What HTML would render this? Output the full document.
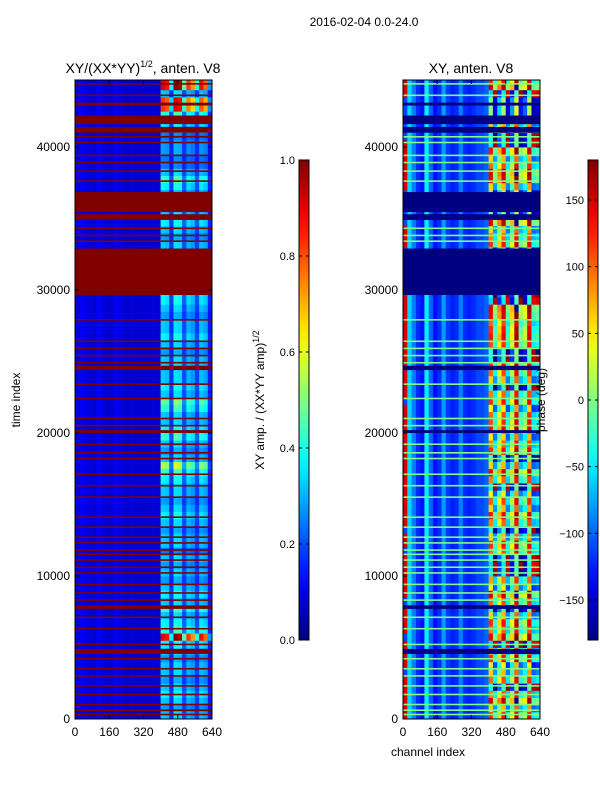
<!DOCTYPE html>
<html><head><meta charset="utf-8">
<style>
body{margin:0;background:#fff;}
svg{display:block;font-family:"Liberation Sans",sans-serif;}
</style></head>
<body>
<svg id="fig" width="600" height="800" xmlns="http://www.w3.org/2000/svg">
<defs>
<clipPath id="clipL"><rect x="75" y="80" width="137" height="639"/></clipPath>
<clipPath id="clipR"><rect x="403" y="80" width="137" height="639"/></clipPath>
</defs>
<text x="364" y="26" font-size="12" text-anchor="middle">2016-02-04 0.0-24.0</text>
<g id="left" clip-path="url(#clipL)"></g>
<g id="right" clip-path="url(#clipR)"></g>
<g id="axes"></g>
</svg>
<script>
// ---- data ----
const channelMax = 640;
const timeMax = 44700;
const blockSize = 500;
const binSize = 20;
const rowAmp = [0.5,0.45,0.5,0.55,0.5,0.45,0.5,0.5,0.45,0.5,
 0.55,0.95,0.6,0.55,0.5,0.6,0.5,0.55,0.5,0.45,
 0.5,0.45,0.5,0.4,0.5,0.5,0.45,0.5,0.55,0.5,
 0.45,0.5,0.5,0.55,0.6,0.7,0.5,0.45,0.5,0.6,
 0.55,0.5,0.5,0.6,0.65,0.5,0.55,0.5,0.5,0.5,
 0.5,0.45,0.5,0.55,0.5,0.5,0.45,0.5,0.55,0.55,
 0.5,0.5,0.5,0.5,0.5,0.5,0.5,0.45,0.5,0.55,
 0.5,0.45,0.4,0.45,0.55,0.6,0.5,0.4,0.4,0.45,
 0.45,0.4,0.5,0.55,0.6,0.9,0.9,0.5,0.95,0.95];
const colAmpBase = [0.09,0.12,0.1,0.09,0.08,0.12,0.1,0.08,0.08,0.11,0.1,0.08,0.08,0.09,0.08,0.08,0.08,0.08,0.09,0.08];
const colAmpHigh = [0.9,0.85,0.3,1.0,0.95,0.4,0.8,0.7,0.35,0.85,0.75,0.2];
const rowPhase = [120,60,150,90,-40,100,60,30,120,80,
 -60,140,90,120,60,-30,100,150,40,80,
 -50,-60,-40,100,120,60,-30,90,130,60,
 100,40,-50,90,140,60,-20,120,90,50,
 130,110,100,40,120,90,-40,60,100,120,
 -40,-30,110,130,120,100,140,150,-60,-40,
 0,0,0,0,0,0,120,90,60,150,
 0,0,0,0,60,140,150,100,60,130,
 -50,-40,80,60,0,0,0,-60,150,120];
const rowLeftRed = [1,1,1,1,1,1,0,1,1,1,1,0,1,1,1,1,0,1,1,1,
 1,1,1,0,1,1,0,1,1,1,1,1,1,1,1,1,1,1,1,1,
 1,1,1,1,0,1,1,1,1,1,1,1,1,1,1,1,1,1,1,1,
 0,0,0,0,0,0,1,1,1,0,0,0,0,0,1,1,1,1,1,1,
 1,0,0,0,0,0,0,1,1,1];
const colPhaseLow = [-110,-60,-90,-120,-130,-50,-100,-130,-120,-80,-115,-125,-120,-90,-120,-125,-120,-110,-110,-100];
const colPhaseHigh = [0,-140,-60,10,-150,-80,40,-130,-100,20,-160,-150];
const flagBands = [[29650,32900],[35450,36850],[34900,35300],[41600,42200],[41000,41400],[4550,4900],[24400,24700],[20000,20200],[42900,43100],[7700,7950]];
const flagLines = [300,600,1000,1700,2300,3000,3500,4200,5200,6300,7100,8300,8800,9400,10200,10600,11100,11500,11800,12300,12700,13400,14100,15500,16300,17100,18200,18600,19200,20500,21000,22400,23400,24900,25400,25900,26400,27900,33400,33800,34300,37600,38300,38900,39400,40300,40700,43600,44400];
const xTicks = [0,160,320,480,640];
const yTicks = [0,10000,20000,30000,40000];
const ampTicks = [0.0,0.2,0.4,0.6,0.8,1.0];
const phaseTicks = [-150,-100,-50,0,50,100,150];

// ---- scales ----
const NS='http://www.w3.org/2000/svg';
const y0=719, yScale=0.0143;
function yPos(t){return y0 - t*yScale;}
function xL(c){return 75 + c*137/channelMax;}
function xR(c){return 403 + c*137/channelMax;}
function clip(v){return Math.max(0,Math.min(1,v));}
function jet(x){x=clip(x);
 const r=clip(1.5-Math.abs(4*x-3)),g=clip(1.5-Math.abs(4*x-2)),b=clip(1.5-Math.abs(4*x-1));
 return 'rgb('+Math.round(r*255)+','+Math.round(g*255)+','+Math.round(b*255)+')';}
function el(tag,attrs,parent){const e=document.createElementNS(NS,tag);for(const k in attrs)e.setAttribute(k,attrs[k]);parent.appendChild(e);return e;}
function wrap(p){while(p>180)p-=360;while(p<-180)p+=360;return p;}

const L=document.getElementById('left'), R=document.getElementById('right'), A=document.getElementById('axes');
const nb = channelMax/binSize;
rowAmp.forEach((ra,i)=>{
  const t0=i*blockSize, yt=yPos(t0+blockSize), h=blockSize*yScale+0.4;
  for(let j=0;j<nb;j++){
    const c0=j*binSize;
    let amp, ph;
    if(j<colAmpBase.length){ amp=colAmpBase[j]; ph=colPhaseLow[j];
      if(rowLeftRed[i] && j===0) ph=150;
    } else { const k=j-colAmpBase.length; amp=0.1+colAmpHigh[k]*ra*ra; ph=wrap(rowPhase[i]+colPhaseHigh[k]); }
    const a=el('rect',{x:xL(c0),y:yt,width:binSize*137/channelMax+0.3,height:h,fill:jet(amp)},L);
    
    
    const p=el('rect',{x:xR(c0),y:yt,width:binSize*137/channelMax+0.3,height:h,fill:jet((ph+180)/360)},R);
    
    
  }
});
flagBands.forEach(b=>{
  const a=el('rect',{x:75,y:yPos(b[1]),width:137,height:(b[1]-b[0])*yScale,fill:'#800000'},L);
  
  
  const p=el('rect',{x:403,y:yPos(b[1]),width:137,height:(b[1]-b[0])*yScale,fill:'#000080'},R);
  
  
});
flagLines.forEach(t=>{
  const a=el('rect',{x:75,y:yPos(t)-1,width:137,height:1.6,fill:'#800000'},L);
  
  
  const p=el('rect',{x:403,y:yPos(t)-1,width:137,height:1.6,fill:'#80ff80'},R);
  
  
});

[[75,xL],[403,xR]].forEach(([x0,xf],pi)=>{
  const f=el('rect',{x:x0,y:80,width:137,height:639,fill:'none',stroke:'#000','stroke-width':1},A);
  
  
  xTicks.forEach(v=>{
    const x=xf(v);
    el('line',{x1:x,y1:719,x2:x,y2:715,stroke:'#000'},A);
    el('line',{x1:x,y1:80,x2:x,y2:84,stroke:'#000'},A);
    const t=el('text',{x:x,y:736,'font-size':12,'text-anchor':'middle'},A);
    t.textContent=v;
    
    
  });
  yTicks.forEach(v=>{
    const y=yPos(v);
    el('line',{x1:x0,y1:y,x2:x0+4,y2:y,stroke:'#000'},A);
    el('line',{x1:x0+137,y1:y,x2:x0+133,y2:y,stroke:'#000'},A);
    const t=el('text',{x:x0-5,y:y+4,'font-size':12,'text-anchor':'end'},A);
    t.textContent=v;
    
    
  });
});
function colorbar(x,vmin,vmax,ticks,name,gid){
  const g=el('linearGradient',{id:gid,x1:0,y1:1,x2:0,y2:0},document.querySelector('defs'));
  for(let s=0;s<=20;s++)el('stop',{offset:s/20,'stop-color':jet(s/20)},g);
  const r=el('rect',{x:x,y:160,width:10,height:480,fill:'url(#'+gid+')',stroke:'#000'},A);
  
  
  ticks.forEach(v=>{
    const y=640-(v-vmin)/(vmax-vmin)*480;
    el('line',{x1:x,y1:y,x2:x+3,y2:y,stroke:'#000'},A);
    el('line',{x1:x+10,y1:y,x2:x+7,y2:y,stroke:'#000'},A);
    const t=el('text',{x:x-4,y:y+4,'font-size':11,'text-anchor':'end'},A);
    t.textContent=(name==='amp-colorbar')?v.toFixed(1):String(v).replace('-','\u2212');
    
    
  });
}
colorbar(299,0,1,ampTicks,'amp-colorbar','gA');
colorbar(588,-180,180,phaseTicks,'phase-colorbar','gP');

function tx(x,y,s,size,name,rot){const t=document.createElementNS(NS,'text');t.setAttribute('x',x);t.setAttribute('y',y);t.setAttribute('font-size',size);t.setAttribute('text-anchor','middle');if(rot)t.setAttribute('transform','rotate(-90 '+x+' '+y+')');t.innerHTML=s;


document.getElementById('fig').appendChild(t);return t;}
tx(143,73,'XY/(XX*YY)<tspan font-size="9" dy="-6">1/2</tspan><tspan dy="6">, anten. V8</tspan>',14,'amp-plot-title');
tx(471,73,'XY, anten. V8',14,'phase-plot-title');
tx(20,400,'time index',12,'y-axis-title',true);
tx(428,756,'channel index',12,'x-axis-title');
tx(264,400,'XY amp. / (XX*YY amp)<tspan font-size="9" dy="-5">1/2</tspan>',12,'amp-colorbar-title',true);
tx(545,400,'phase (deg)',12,'phase-colorbar-title',true);
</script>
</body></html>
